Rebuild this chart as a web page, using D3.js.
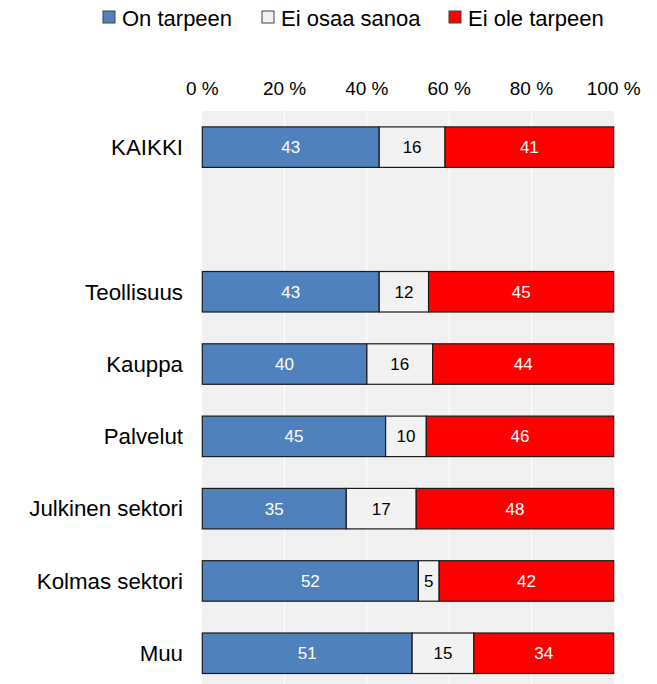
<!DOCTYPE html>
<html lang="fi">
<head>
<meta charset="utf-8">
<title>Tarve</title>
<script src="https://d3js.org/d3.v7.min.js"></script>
<style>
  body { margin: 0; background: #fff; }
  svg text { font-family: "Liberation Sans", Arial, sans-serif; }
</style>
</head>
<body>
<script>
// categories (empty slot keeps the gap below KAIKKI)
var categories = ["KAIKKI", "", "Teollisuus", "Kauppa", "Palvelut", "Julkinen sektori", "Kolmas sektori", "Muu"];
var seriesNames = ["On tarpeen", "Ei osaa sanoa", "Ei ole tarpeen"];
var onTarpeen    = [43, null, 43, 40, 45, 35, 52, 51];
var eiOsaaSanoa  = [16, null, 12, 16, 10, 17, 5, 15];
var eiOleTarpeen = [41, null, 45, 44, 46, 48, 42, 34];
var tickValues = [0, 20, 40, 60, 80, 100];

var colors = ["#4f81bd", "#f2f2f2", "#ff0000"];
var labelColors = ["#fff", "#000", "#fff"];

var w = 657, h = 684;
var plotLeft = 202.3, plotRight = 613.7, plotTop = 111, step = 72.3;

var svg = d3.select("body").append("svg")
  .attr("width", w)
  .attr("height", h);

var x = d3.scaleLinear().domain([0, 100]).range([plotLeft, plotRight]);
var y = d3.scaleBand()
  .domain(d3.range(categories.length))
  .range([plotTop, plotTop + step * categories.length])
  .paddingInner(0.44)
  .paddingOuter(0.22);

// plot background
svg.append("rect")
  .attr("x", plotLeft).attr("y", plotTop)
  .attr("width", plotRight - plotLeft)
  .attr("height", step * categories.length)
  .attr("fill", "#f0f0f0");

// gridlines
svg.selectAll("line.grid")
  .data(tickValues.slice(1, -1))
  .enter().append("line")
  .attr("class", "grid")
  .attr("x1", function(d) { return x(d); })
  .attr("x2", function(d) { return x(d); })
  .attr("y1", plotTop).attr("y2", h)
  .attr("stroke", "#fff")
  .attr("stroke-width", 1);

// top axis labels
svg.selectAll("text.tick")
  .data(tickValues)
  .enter().append("text")
  .attr("class", "tick")
  .attr("x", function(d) { return x(d); })
  .attr("y", 94.5)
  .attr("text-anchor", "middle")
  .attr("font-size", "19px")
  .attr("fill", "#000")
  .text(function(d) { return d + " %"; });

// category labels
svg.selectAll("text.cat")
  .data(categories)
  .enter().append("text")
  .attr("class", "cat")
  .attr("x", 183)
  .attr("y", function(d, i) { return y(i) + y.bandwidth() / 2; })
  .attr("dy", "0.35em")
  .attr("text-anchor", "end")
  .attr("font-size", "22.3px")
  .attr("fill", "#000")
  .text(function(d) { return d; });

// stacked segments, each row scaled to 100 %
var series = [onTarpeen, eiOsaaSanoa, eiOleTarpeen];
var rows = [];
categories.forEach(function(c, i) {
  if (onTarpeen[i] == null) return;
  var total = d3.sum(series, function(s) { return s[i]; });
  var x0 = 0;
  series.forEach(function(s, k) {
    var share = s[i] / total * 100;
    rows.push({ i: i, k: k, x0: x0, share: share, v: s[i] });
    x0 += share;
  });
});

svg.selectAll("rect.seg")
  .data(rows)
  .enter().append("rect")
  .attr("class", "seg")
  .attr("x", function(d) { return x(d.x0); })
  .attr("y", function(d) { return y(d.i); })
  .attr("width", function(d) { return x(d.x0 + d.share) - x(d.x0); })
  .attr("height", y.bandwidth())
  .attr("fill", function(d) { return colors[d.k]; })
  .attr("stroke", "#1a1a1a")
  .attr("stroke-width", 1.2);

svg.selectAll("text.val")
  .data(rows)
  .enter().append("text")
  .attr("class", "val")
  .attr("x", function(d) { return x(d.x0 + d.share / 2); })
  .attr("y", function(d) { return y(d.i) + y.bandwidth() / 2; })
  .attr("dy", "0.35em")
  .attr("text-anchor", "middle")
  .attr("font-size", "17px")
  .attr("fill", function(d) { return labelColors[d.k]; })
  .text(function(d) { return d.v; });

// legend
var legendX = [103, 262, 449];
seriesNames.forEach(function(name, k) {
  svg.append("rect")
    .attr("x", legendX[k]).attr("y", 11)
    .attr("width", 12).attr("height", 12)
    .attr("fill", colors[k])
    .attr("stroke", "#404040")
    .attr("stroke-width", 1);
  svg.append("text")
    .attr("x", legendX[k] + 19).attr("y", 25.5)
    .attr("font-size", "22px")
    .attr("fill", "#000")
    .text(name);
});
</script>
</body>
</html>
